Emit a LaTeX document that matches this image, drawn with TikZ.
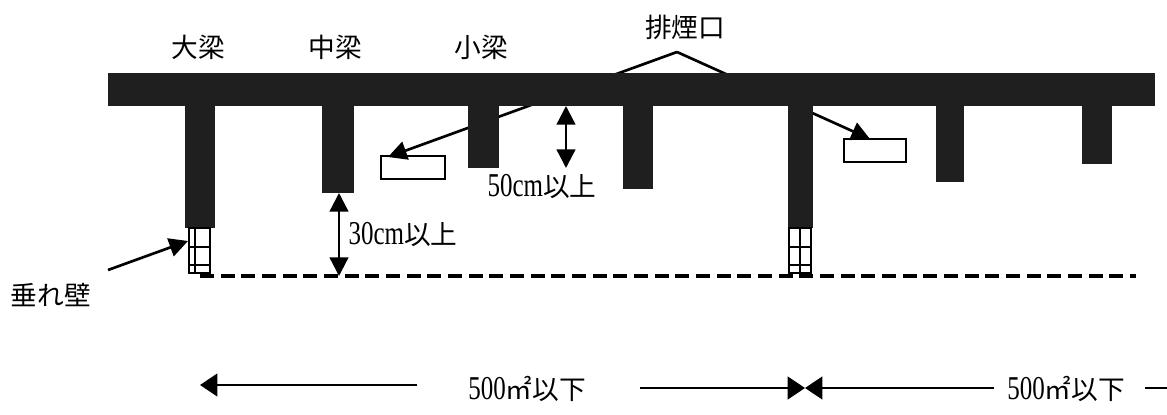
\documentclass[tikz,border=0pt]{standalone}
\usepackage{fontspec}
\setmainfont[FakeStretch=0.75]{Liberation Serif}
\newfontfamily\cjk{Noto Sans CJK JP}
\newcommand{\kanji}[1]{{\fontsize{20}{24}\selectfont\cjk #1}}
\usetikzlibrary{arrows.meta}
\definecolor{beamgray}{gray}{0.12}

\begin{document}
\begin{tikzpicture}[x=0.75pt, y=-0.75pt,
  beam/.style={fill=beamgray},
  label/.style={font=\fontsize{25}{28}\selectfont, inner sep=0pt},
  wall/.style={draw, line width=1.2pt},
  vent/.style={draw, line width=1.8pt, fill=white},
  pointer/.style={-{Triangle[length=14pt, width=14pt]}, line width=2pt},
  span/.style={{Triangle[length=14pt, width=14pt]}-{Triangle[length=14pt, width=14pt]}, line width=1.8pt},
  floorline/.style={-{Triangle[length=13pt, width=17pt]}, line width=1.8pt}]
  \useasboundingbox (0,0) rectangle (1167,414);

  % vents
  \path[vent] (381,156) rectangle (445,179);
  \path[vent] (844,139) rectangle (906,162);

  % smoke vent pointers go under the slab
  \coordinate (ventApex) at (677,52);
  \coordinate (ventTipA) at (388,157);
  \coordinate (ventTipB) at (870,139);
  \draw[pointer] (ventApex) -- (ventTipA);
  \draw[pointer] (ventApex) -- (ventTipB);

  % slab and beams
  \fill[beam] (108,73) rectangle (1155,106);
  \foreach \xa/\xb/\yb in {185/215/228, 322/354/193, 468/499/168, 623/653/189,
                           788/813/228, 936/964/182, 1082/1112/164}
    \fill[beam] (\xa,100) rectangle (\xb,\yb);

  % hanging walls
  \foreach \xa/\xb/\xm in {189/210/195, 789/811/800} {
    \draw[wall] (\xa,228) rectangle (\xb,273);
    \draw[wall] (\xm,228) -- (\xm,273);
    \draw[wall] (\xa,247) -- (\xb,247);
    \draw[wall] (\xa,265) -- (\xb,265);
  }

  % smoke curtain line
  \draw[line width=2.6pt, dash pattern=on 10.5pt off 5pt] (200,276) -- (1136,276);

  \node[label] (bigBeam) at (198,47) {\kanji{大梁}};
  \node[label] (midBeam) at (335,47) {\kanji{中梁}};
  \node[label] (smallBeam) at (481,47) {\kanji{小梁}};
  \node[label] (ventLabel) at (685,27) {\kanji{排煙口}};
  \node[label] (clearA) at (542,187) {50cm\kanji{以上}};
  \node[label] (clearB) at (403,235) {30cm\kanji{以上}};
  \node[label] (wallLabel) at (51,295) {\kanji{垂れ壁}};
  \node[label] (areaA) at (527,389) {500\kanji{㎡以下}};
  \node[label] (areaB) at (1066,389) {500\kanji{㎡以下}};

  \coordinate (clearTopA) at (566,106);
  \coordinate (clearBotA) at (566,168);
  \coordinate (clearTopB) at (339,193);
  \coordinate (clearBotB) at (339,276);
  \draw[span] (clearTopA) -- (clearBotA);
  \draw[span] (clearTopB) -- (clearBotB);

  \coordinate (wallFrom) at (108,270);
  \coordinate (wallTip) at (188,241);
  \draw[pointer] (wallFrom) -- (wallTip);

  % floor area arrows
  \coordinate (areaLeft) at (200,385);
  \coordinate (areaMid) at (805,388);
  \coordinate (areaEdge) at (1167,388);
  \draw[floorline] (417,385) -- (areaLeft);
  \draw[floorline] (640,388) -- (areaMid);
  \draw[floorline] (994,388) -- (areaMid);
  \draw[line width=1.8pt] (1145,388) -- (areaEdge);
\end{tikzpicture}
\end{document}
